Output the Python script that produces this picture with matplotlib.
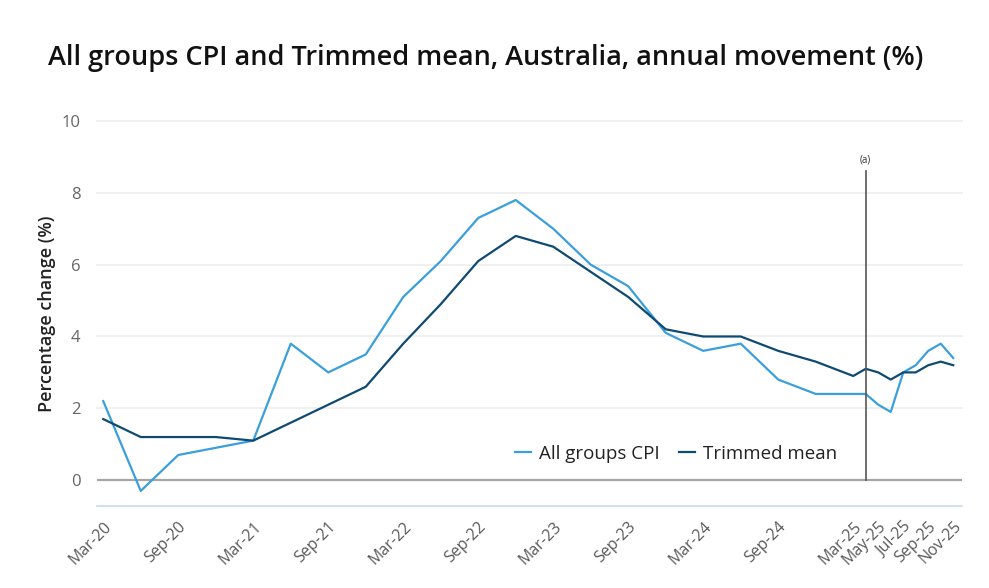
import matplotlib
matplotlib.use("Agg")
import matplotlib.pyplot as plt

plt.rcParams['font.family'] = ['Open Sans', 'DejaVu Sans']

# Months since Mar-20 for each observation (quarterly to Mar-25, then monthly)
months = [0, 3, 6, 9, 12, 15, 18, 21, 24, 27, 30, 33, 36, 39, 42, 45, 48, 51, 54, 57, 60,
          61, 62, 63, 64, 65, 66, 67, 68]
cpi = [2.2, -0.3, 0.7, 0.9, 1.1, 3.8, 3.0, 3.5, 5.1, 6.1, 7.3, 7.8, 7.0, 6.0, 5.4, 4.1,
       3.6, 3.8, 2.8, 2.4, 2.4,
       2.4, 2.1, 1.9, 3.0, 3.2, 3.6, 3.8, 3.4]
trimmed = [1.7, 1.2, 1.2, 1.2, 1.1, 1.6, 2.1, 2.6, 3.8, 4.9, 6.1, 6.8, 6.5, 5.8, 5.1, 4.2,
           4.0, 4.0, 3.6, 3.3, 2.9,
           3.1, 3.0, 2.8, 3.0, 3.0, 3.2, 3.3, 3.2]
tick_months = [0, 6, 12, 18, 24, 30, 36, 42, 48, 54, 60, 62, 64, 66, 68]
tick_labels = ["Mar-20", "Sep-20", "Mar-21", "Sep-21", "Mar-22", "Sep-22", "Mar-23",
               "Sep-23", "Mar-24", "Sep-24", "Mar-25", "May-25", "Jul-25", "Sep-25", "Nov-25"]
break_month = 61

fig = plt.figure(figsize=(9.89, 5.88), dpi=100)
ax = fig.add_axes([97/989, 1-506/588, (962-97)/989, (506-121)/588])

ax.plot(months, cpi, color='#3b9fdc', lw=1.6, label='All groups CPI', zorder=3)
ax.plot(months, trimmed, color='#0f4a73', lw=1.6, label='Trimmed mean', zorder=3)

ax.set_xlim(-0.5, 68.7)
ax.set_ylim(-0.72, 10.0)
ax.set_yticks([0, 2, 4, 6, 8, 10])
for y in [2, 4, 6, 8, 10]:
    ax.axhline(y, color='#ededed', lw=1.2, zorder=1, clip_on=False)
ax.axhline(0, color='#a6a6a6', lw=1.6, zorder=2)

ax.plot([break_month, break_month], [0, 8.6], color='#555555', lw=1.2, zorder=4)
ax.text(break_month, 8.75, '(a)', ha='center', va='bottom', fontsize=7, color='#333333')

ax.set_xticks(tick_months)
ax.set_xticklabels(tick_labels, rotation=45, ha='right', va='top', rotation_mode='anchor',
                   fontsize=11.5, color='#595959')
ax.tick_params(axis='x', length=0, pad=9)
ax.tick_params(axis='y', length=0, pad=12, labelsize=12, labelcolor='#666666')

for s in ['top', 'right', 'left']:
    ax.spines[s].set_visible(False)
ax.spines['bottom'].set_color('#c9daf5')
ax.spines['bottom'].set_linewidth(1.2)

ax.set_ylabel('Percentage change (%)', fontsize=13, fontweight='semibold', color='#222222',
              labelpad=4)

leg = ax.legend(loc='center left', bbox_to_anchor=(418/865, (506-454)/385), ncol=2,
                frameon=False, fontsize=13.5, handlelength=0.85, handletextpad=0.42,
                columnspacing=1.05, borderaxespad=0, borderpad=0)
for t in leg.get_texts():
    t.set_color('#222222')

fig.text(48/989, 1-58/588, 'All groups CPI and Trimmed mean, Australia, annual movement (%)',
         fontsize=19.5, fontweight='semibold', color='#111111', ha='left', va='center')

fig.savefig('out.png', dpi=100)
